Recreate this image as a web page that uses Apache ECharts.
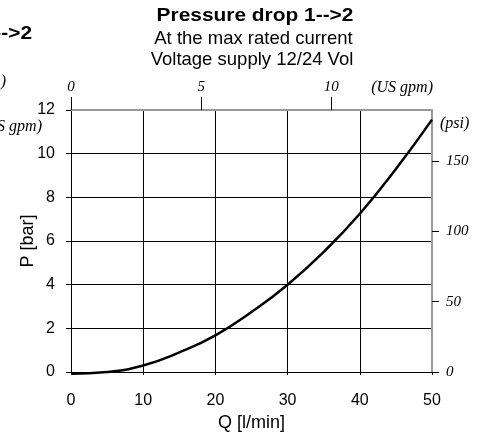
<!DOCTYPE html>
<html>
<head>
<meta charset="utf-8">
<script src="https://cdn.jsdelivr.net/npm/echarts@6/dist/echarts.min.js"></script>
<style>
html,body{margin:0;padding:0;background:#fff;}
#chart{width:488px;height:443px;}
</style>
</head>
<body>
<div id="chart"></div>
<script>
// Data
var flowLpm = [0, 5, 10, 15, 20, 25, 30, 35, 40, 45, 50];
var pressureBar = [-0.08, 0.0, 0.3, 0.9, 1.68, 2.75, 4.0, 5.5, 7.25, 9.3, 11.56];
var titleText = 'Pressure drop 1-->2';
var subtitleLines = ['At the max rated current', 'Voltage supply 12/24 Vol'];
// secondary scales as drawn in the reference (value at the far end of each axis)
var gpmAxisMax = 13.87;   // US gpm at 50 l/min (as drawn)
var psiAxisMax = 186.3;   // psi at 12 bar (as drawn)
var xMax = 50, yMax = 12;

var sans = 'Liberation Sans, Arial, sans-serif';
var serif = 'Liberation Serif, Times New Roman, serif';

var chart = echarts.init(document.getElementById('chart'), null, {renderer: 'canvas'});
var seriesData = flowLpm.map(function (q, i) { return [q, pressureBar[i]]; });

function txt(x, y, text, font, align, sx) {
  return {type: 'text', x: x, y: y, scaleX: sx || 1,
    style: {text: text, font: font, fill: '#000', align: align, verticalAlign: 'middle'}};
}

chart.setOption({
  animation: false,
  backgroundColor: '#fff',
  grid: {left: 71, right: 56, top: 110, bottom: 71, containLabel: false},
  graphic: [
    txt(255, 15.5, titleText, 'bold 19px ' + sans, 'center', 1.1),
    txt(253.5, 38.5, subtitleLines[0], '18.5px ' + sans, 'center'),
    txt(252, 60, subtitleLines[1], '18.5px ' + sans, 'center'),
    txt(433, 88, '(US gpm)', 'italic 16px ' + serif, 'right'),
    txt(440, 124, '(psi)', 'italic 16px ' + serif, 'left'),
    // cut-off remnants of a neighbouring chart at the left edge
    txt(32, 34, titleText, 'bold 19px ' + sans, 'right', 1.1),
    txt(6, 82, '(US gpm)', 'italic 16px ' + serif, 'right'),
    txt(42, 127, '(US gpm)', 'italic 16px ' + serif, 'right')
  ],
  xAxis: [
    {
      type: 'value', position: 'bottom', min: 0, max: xMax, interval: 10,
      name: 'Q [l/min]', nameLocation: 'middle', nameGap: 42, nameMoveOverlap: false,
      nameTextStyle: {fontFamily: sans, fontSize: 18, color: '#000'},
      axisLine: {show: true, lineStyle: {color: '#000', width: 1}},
      axisTick: {show: true, inside: false, length: 3, lineStyle: {color: '#000'}},
      axisLabel: {margin: 21, fontFamily: sans, fontSize: 16, color: '#000'},
      splitLine: {show: true, showMinLine: false, showMaxLine: false, lineStyle: {color: '#000', width: 1}}
    },
    {
      type: 'value', position: 'top', min: 0, max: gpmAxisMax, interval: 5,
      axisLine: {show: true, onZero: false, lineStyle: {color: '#999', width: 2}},
      axisTick: {show: true, length: 13, lineStyle: {color: '#000', width: 1}},
      axisLabel: {margin: 15, fontFamily: serif, fontStyle: 'italic', fontSize: 15, color: '#000', showMaxLabel: false},
      splitLine: {show: false}
    }
  ],
  yAxis: [
    {
      type: 'value', position: 'left', min: 0, max: yMax, interval: 2,
      name: 'P [bar]', nameLocation: 'middle', nameGap: 34, nameRotate: 90, nameMoveOverlap: false,
      nameTextStyle: {fontFamily: sans, fontSize: 18, color: '#000'},
      axisLine: {show: true, lineStyle: {color: '#000', width: 1}},
      axisTick: {show: true, length: 5, lineStyle: {color: '#000'}},
      axisLabel: {margin: 16, fontFamily: sans, fontSize: 16, color: '#000'},
      splitLine: {show: true, showMinLine: false, showMaxLine: false, lineStyle: {color: '#000', width: 1}}
    },
    {
      type: 'value', position: 'right', min: 0, max: psiAxisMax, interval: 50,
      axisLine: {show: true, onZero: false, lineStyle: {color: '#999', width: 2}},
      axisTick: {show: true, length: 7, lineStyle: {color: '#000', width: 1}},
      axisLabel: {margin: 14, fontFamily: serif, fontStyle: 'italic', fontSize: 15, color: '#000', showMaxLabel: false},
      splitLine: {show: false}
    }
  ],
  series: [{
    type: 'line', xAxisIndex: 0, yAxisIndex: 0,
    data: seriesData, smooth: true, showSymbol: false, clip: false,
    lineStyle: {color: '#000', width: 2.5}
  }]
});
</script>
</body>
</html>
